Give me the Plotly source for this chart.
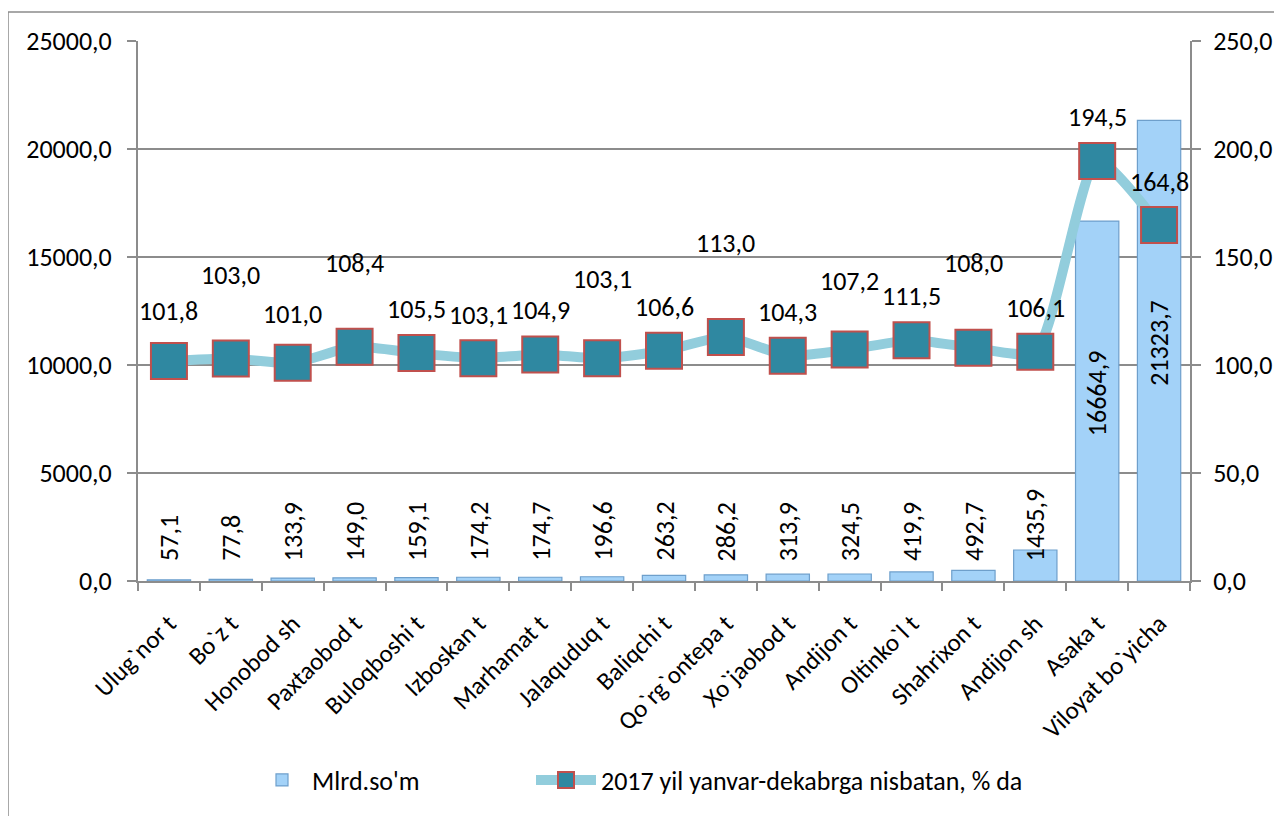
import plotly.graph_objects as go

categories = ["Ulug`nor t", "Bo`z t", "Honobod sh", "Paxtaobod t", "Buloqboshi t",
              "Izboskan t", "Marhamat t", "Jalaquduq t", "Baliqchi t", "Qo`rg`ontepa t",
              "Xo`jaobod t", "Andijon t", "Oltinko`l t", "Shahrixon t", "Andijon sh",
              "Asaka t", "Viloyat bo`yicha"]
mlrd_som = [57.1, 77.8, 133.9, 149.0, 159.1, 174.2, 174.7, 196.6, 263.2, 286.2,
            313.9, 324.5, 419.9, 492.7, 1435.9, 16664.9, 21323.7]
percent_2017 = [101.8, 103.0, 101.0, 108.4, 105.5, 103.1, 104.9, 103.1, 106.6, 113.0,
                104.3, 107.2, 111.5, 108.0, 106.1, 194.5, 164.8]
y_ticks_left = [0, 5000, 10000, 15000, 20000, 25000]
y_ticks_right = [0, 50, 100, 150, 200, 250]

# label offsets (pixels above the marker) as in the original layout
line_label_shift = [50, 84, 49, 84, 44, 43, 44, 79, 44, 94, 44, 68, 44, 85, 44, 44, 43]

FONT = "Carlito, Lato, sans-serif"
FS = 26
FS_CAT = 25

def fmt(v):
    return f"{v:.1f}".replace(".", ",")

# page body has an 8px margin: work in screen pixels, convert to figure pixels
OFF = 8
W, H = 1282 - OFF, 816 - OFF
PL, PR, PT, PB = 138, 1190, 41, 581  # plot area in screen pixels
L, R, T, B = PL - OFF, W - (PR - OFF), PT - OFF, H - (PB - OFF)
pw, ph = W - L - R, H - T - B

def px_x(px):
    return (px - PL) / pw

def px_y(py):
    return (PB - py) / ph

fig = go.Figure()
fig.add_trace(go.Bar(
    x=categories, y=mlrd_som, name="Mlrd.so'm", yaxis="y",
    width=0.7, legend="legend",
    marker=dict(color="#A3D2F8", line=dict(color="#6E9FCB", width=1.2)),
))
fig.add_trace(go.Scatter(
    x=categories, y=percent_2017, name="2017 yil yanvar-dekabrga nisbatan, % da",
    yaxis="y2", mode="lines+markers", legend="legend2",
    line=dict(color="#92CDDC", width=10, shape="spline", smoothing=0.6),
    marker=dict(symbol="square", size=36, color="#2F88A1",
                line=dict(color="#C0504D", width=2)),
))

annotations = []
for c, v in zip(categories, mlrd_som):
    if v < 2000:
        annotations.append(dict(x=c, y=0, yref="y", xref="x", text=fmt(v),
                                textangle=-90, yanchor="bottom", yshift=18,
                                showarrow=False, font=dict(size=FS, color="black", family=FONT)))
    else:
        annotations.append(dict(x=c, y=v / 2, yref="y", xref="x", text=fmt(v),
                                textangle=-90, yanchor="middle", yshift=8,
                                showarrow=False, font=dict(size=FS, color="black", family=FONT)))
for c, v, s in zip(categories, percent_2017, line_label_shift):
    annotations.append(dict(x=c, y=v, yref="y2", xref="x", text=fmt(v),
                            yanchor="middle", yshift=s, showarrow=False,
                            font=dict(size=FS, color="black", family=FONT)))

axis_style = dict(showline=True, linecolor="#8C8C8C", linewidth=2, ticks="outside",
                  tickcolor="#8C8C8C", tickwidth=2, automargin=False, zeroline=False)

fig.update_layout(
    width=W, height=H,
    margin=dict(l=L, r=R, t=T, b=B, autoexpand=False),
    paper_bgcolor="white", plot_bgcolor="white",
    separators=",.",
    font=dict(family=FONT, size=FS, color="black"),
    showlegend=True,
    legend=dict(orientation="h", x=px_x(252), xanchor="left", y=px_y(780), yanchor="middle",
                font=dict(size=FS, family=FONT), itemwidth=50, bgcolor="rgba(0,0,0,0)"),
    legend2=dict(orientation="h", x=px_x(531), xanchor="left", y=px_y(780), yanchor="middle",
                 font=dict(size=FS, family=FONT), itemwidth=60, bgcolor="rgba(0,0,0,0)"),
    xaxis=dict(range=[-0.5, len(categories) - 0.5], autorange=False,
               tickson="boundaries", ticklen=8, ticklabelstandoff=16,
               tickangle=-45, tickfont=dict(size=FS_CAT, family=FONT), showgrid=False,
               **axis_style),
    yaxis=dict(range=[0, 25000], tickvals=y_ticks_left, tickformat=".1f",
               ticklen=9, ticklabelstandoff=10,
               gridcolor="#8C8C8C", gridwidth=2,
               tickfont=dict(size=FS, family=FONT), **axis_style),
    yaxis2=dict(range=[0, 250], tickvals=y_ticks_right, tickformat=".1f",
                overlaying="y", side="right", ticklen=9, ticklabelstandoff=7,
                showgrid=False, tickfont=dict(size=FS, family=FONT), **axis_style),
    annotations=annotations,
    shapes=[dict(type="rect", xref="paper", yref="paper",
                 x0=px_x(8), x1=px_x(1295), y0=px_y(830), y1=px_y(12),
                 line=dict(color="#8C8C8C", width=1.5), layer="below")],
)

fig.write_html("out.html")
